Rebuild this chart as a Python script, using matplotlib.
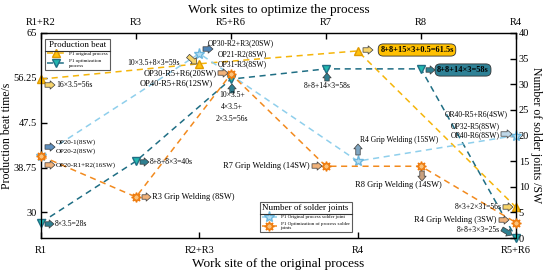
import matplotlib
matplotlib.use("Agg")
import matplotlib.pyplot as plt
from matplotlib.patches import FancyArrowPatch
from matplotlib.lines import Line2D

plt.rcParams["font.family"] = ["Liberation Serif", "DejaVu Serif"]

# --- data ---
orig_sites = ["R1", "R2+R3", "R4", "R5+R6"]
opt_sites = ["R1+R2", "R3", "R5+R6", "R7", "R8", "R4"]

orig_beat = [56, 59, 61.5, 31]          # P1 original process (s)
opt_beat = [28, 40, 56, 58, 58, 25]     # P1 optimization process (s)
orig_joints = [16, 36, 15, 20]          # original process solder joints
opt_joints = [16, 8, 32, 14, 14, 3]     # optimized process solder joints

left_ticks = [30, 38.75, 47.5, 56.25, 65]
right_ticks = list(range(0, 45, 5))

GOLD = "#F5B50A"
TEAL = "#1F6E84"
LBLUE = "#8FCFEC"
ORANGE = "#F28A1E"

W, H = 550, 274
fig = plt.figure(figsize=(5.5, 2.74), dpi=100)
ax = fig.add_axes([41 / W, 1 - 238 / H, (516 - 41) / W, (238 - 33) / H])
ax_top = ax.twiny()
ax_r = ax.twinx()
ax_tr = ax_top.twinx()

ax.set_xlim(0, 3)
ax.set_ylim(25, 65)
ax_top.set_xlim(0, 5)
ax_r.set_ylim(0, 40)
ax_tr.set_ylim(0, 40)

ax.set_xticks(range(4))
ax.set_xticklabels(orig_sites)
ax.set_yticks(left_ticks)
ax.set_yticklabels(["30", "38.75", "47.5", "56.25", "65"])
ax_top.set_xticks(range(6))
ax_top.set_xticklabels(opt_sites)
ax_r.set_yticks(right_ticks)
ax_tr.set_yticks([])
ax_tr.tick_params(right=False, labelright=False)

for a in (ax, ax_top, ax_r):
    a.tick_params(direction="in", length=4, width=1, labelsize=7.5)
ax.tick_params(axis="x", pad=6)
ax.tick_params(axis="y", pad=3)
ax_top.tick_params(axis="x", pad=4)
ax_r.tick_params(axis="y", pad=2)

ax.set_xlabel("Work site of the original process", fontsize=9.5, labelpad=2)
ax_top.set_xlabel("Work sites to optimize the process", fontsize=9.5, labelpad=4)
ax.set_ylabel("Production beat time/s", fontsize=8.5, labelpad=0)
ax_r.set_ylabel("Number of solder joints /SW", fontsize=8.5, rotation=270, labelpad=9)

dash = (0, (4, 3))
l1, = ax.plot(range(4), orig_beat, color=GOLD, ls=dash, lw=1.1, marker="^",
              ms=6, mfc="#FFC20E", mec="#E09A00", clip_on=False, zorder=3)
l2, = ax_top.plot(range(6), opt_beat, color=TEAL, ls=dash, lw=1.1, marker="v",
                  ms=6, mfc="#22B8B0", mec=TEAL, clip_on=False, zorder=3)
l3, = ax_r.plot(range(4), orig_joints, color=LBLUE, ls=dash, lw=1.1, marker="*",
                ms=8, mfc="#B5DEF2", mec="#6DB7DE", clip_on=False, zorder=3)
l4, = ax_tr.plot(range(6), opt_joints, color=ORANGE, ls=dash, lw=1.1, marker=(8, 1, 0),
                 ms=7, mfc="#FBC27A", mec="#EE7A0C", clip_on=False, zorder=3)


def note(txt, x, y, ha="left", size=5.5, **kw):
    fig.text(x / W, 1 - y / H, txt, ha=ha, va="center", fontsize=size, **kw)


def arrow(x0, y0, x1, y1, fc):
    fig.patches.append(FancyArrowPatch(
        (x0 / W, 1 - y0 / H), (x1 / W, 1 - y1 / H), transform=fig.transFigure,
        arrowstyle="simple,head_length=3.5,head_width=6,tail_width=3.2",
        fc=fc, ec="#3a3a3a", lw=0.5, mutation_scale=1, shrinkA=0, shrinkB=0))


# annotations, original process side
note("16×3.5=56s", 56, 85)
arrow(45, 85, 55, 85, "#F7D46A")
note("10×3.5+8×3=59s", 180, 63, ha="right")
arrow(188, 56, 197, 64, "#F7D46A")
note("OP30-R2+R3(20SW)", 208, 43)
note("OP21-R2(8SW)", 218, 54)
note("OP31-R3(8SW)", 218, 64)
arrow(203, 49, 213, 49, "#4F86B8")
note("OP20-1(8SW)", 56, 142, size=5)
note("OP20-2(8SW)", 56, 151, size=5)
arrow(45, 147, 55, 147, "#5D8FBF")
note("OP20-R1+R2(16SW)", 56, 165, size=5)
arrow(45, 165, 55, 165, "#F0B27A")
note("R4 Grip Welding (15SW)", 360, 140)
arrow(358, 155, 358, 144, "#7FA6C2")
note("OR40-R5+R6(4SW)", 508, 114, ha="right")
note("OP32-R5(8SW)", 500, 126, ha="right")
note("OP40-R6(8SW)", 500, 135, ha="right")
arrow(501, 134, 512, 134, "#BFD7E8")
note("8+8+15×3+0.5=61.5s", 417, 50, ha="center", size=6, weight="bold",
     bbox=dict(boxstyle="round,pad=0.25,rounding_size=0.6", fc="#FFC000", ec="#333333", lw=0.6))
arrow(363, 50, 373, 50, "#F7D46A")
note("8×3+2×31=56s", 502, 207, ha="right")
arrow(503, 207, 513, 207, "#F7D46A")

# annotations, optimized process side
note("8×3.5=28s", 55, 224)
arrow(45, 224, 54, 224, "#2F7F90")
note("8+8+8×3=40s", 150, 162)
arrow(140, 162, 149, 162, "#2F7F90")
note("R3 Grip Welding (8SW)", 152, 197, size=6)
arrow(142, 197, 151, 197, "#F0B27A")
note("OP30-R5+R6(20SW)", 217, 73, ha="right", size=6)
note("OP40-R5+R6(12SW)", 213, 83, ha="right", size=6)
arrow(218, 73, 228, 73, "#F0B27A")
arrow(232, 93, 232, 84, "#2F7F90")
note("10×3.5+\n4×3.5+\n2×3.5=56s", 232, 107, ha="center", size=5.5, linespacing=1.6)
note("8+8+14×3=58s", 327, 86, ha="center", size=5.5)
arrow(327, 81, 327, 73, "#2F7F90")
note("8+8+14×3=58s", 463, 70, ha="center", size=6, weight="bold",
     bbox=dict(boxstyle="round,pad=0.25,rounding_size=0.6", fc="#2E8196", ec="#333333", lw=0.6))
arrow(426, 70, 435, 70, "#2F7F90")
note("R7 Grip Welding (14SW)", 310, 166, ha="right", size=6)
arrow(312, 166, 322, 166, "#F0B27A")
note("R8 Grip Welding (14SW)", 398, 185, ha="center", size=6)
arrow(422, 171, 422, 181, "#C8A07E")
note("R4 Grip Welding (3SW)", 497, 220, ha="right", size=6)
arrow(499, 220, 509, 220, "#F0B27A")
note("8+8+3×3=25s", 500, 230, ha="right")
arrow(502, 229, 512, 235, "#2F7F90")

# legends
leg1 = ax_tr.legend([l1, l2], ["P1 original process", "P1 optimization\nprocess"],
                    title="Production beat", loc="upper left",
                    bbox_to_anchor=(0.004, 0.985), fontsize=3.6, title_fontsize=6.5,
                    frameon=True, fancybox=False, edgecolor="#333333",
                    handlelength=3.5, borderpad=0.4, labelspacing=0.6)
leg1.get_frame().set_linewidth(0.8)
ax_tr.add_artist(leg1)
leg2 = ax_tr.legend([l3, l4], ["P1 Original process solder joint",
                               "P1 Optimization of process solder\njoints"],
                    title="Number of solder joints", loc="lower left",
                    bbox_to_anchor=(0.455, 0.015), fontsize=3.6, title_fontsize=6.5,
                    frameon=True, fancybox=False, edgecolor="#333333",
                    handlelength=3.0, borderpad=0.4, labelspacing=0.5)
leg2.get_frame().set_linewidth(0.8)

# separator line under each legend title
fig.canvas.draw()
inv = fig.transFigure.inverted()
for leg in (leg1, leg2):
    fb = leg.get_frame().get_window_extent()
    tb = leg.get_title().get_window_extent()
    y = tb.y0 - 2
    (x0, yy), (x1, _) = inv.transform([(fb.x0, y), (fb.x1, y)])
    fig.add_artist(Line2D([x0, x1], [yy, yy], color="#333333", lw=0.8, zorder=10))

fig.savefig("out.png", dpi=100)
